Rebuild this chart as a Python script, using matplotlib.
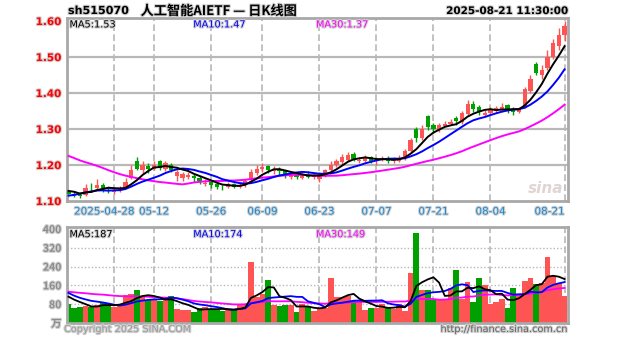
import numpy as np
import pandas as pd
import matplotlib
matplotlib.use('Agg')
import matplotlib.pyplot as plt
import matplotlib.patheffects as pe
import matplotlib.transforms as mtrans

# Daily K-line of sh515070, 2025-04-16 .. 2025-08-21
open_ = [1.125, 1.120, 1.118, 1.117, 1.140, 1.135, 1.145, 1.135, 1.126, 1.130,
         1.140, 1.165, 1.210, 1.185, 1.198, 1.190, 1.212, 1.190, 1.200, 1.170,
         1.165, 1.168, 1.170, 1.165, 1.148, 1.152, 1.146, 1.140, 1.138, 1.148,
         1.140, 1.145, 1.158, 1.178, 1.190, 1.198, 1.182, 1.190, 1.182, 1.168,
         1.172, 1.165, 1.175, 1.168, 1.162, 1.175, 1.185, 1.200, 1.208, 1.215,
         1.230, 1.212, 1.212, 1.222, 1.210, 1.215, 1.220, 1.210, 1.212, 1.222,
         1.240, 1.300, 1.275, 1.335, 1.310, 1.298, 1.308, 1.315, 1.330, 1.320,
         1.343, 1.370, 1.360, 1.340, 1.345, 1.350, 1.352, 1.368, 1.356, 1.348,
         1.360, 1.405, 1.480, 1.450, 1.470, 1.500, 1.530, 1.560]
high = [1.130, 1.127, 1.122, 1.148, 1.150, 1.160, 1.150, 1.140, 1.138, 1.142,
        1.165, 1.200, 1.222, 1.210, 1.205, 1.210, 1.215, 1.210, 1.205, 1.186,
        1.180, 1.180, 1.175, 1.170, 1.160, 1.158, 1.150, 1.145, 1.152, 1.150,
        1.150, 1.160, 1.190, 1.200, 1.205, 1.200, 1.196, 1.195, 1.186, 1.180,
        1.178, 1.180, 1.182, 1.178, 1.180, 1.190, 1.210, 1.218, 1.230, 1.236,
        1.235, 1.222, 1.228, 1.226, 1.222, 1.225, 1.225, 1.222, 1.228, 1.245,
        1.275, 1.305, 1.310, 1.340, 1.318, 1.317, 1.322, 1.328, 1.335, 1.350,
        1.380, 1.378, 1.366, 1.352, 1.360, 1.365, 1.372, 1.370, 1.360, 1.360,
        1.418, 1.450, 1.486, 1.478, 1.520, 1.550, 1.580, 1.600]
low = [1.112, 1.112, 1.108, 1.115, 1.128, 1.130, 1.125, 1.122, 1.120, 1.125,
       1.136, 1.160, 1.185, 1.175, 1.178, 1.185, 1.186, 1.183, 1.180, 1.155,
       1.155, 1.160, 1.152, 1.148, 1.142, 1.135, 1.132, 1.130, 1.135, 1.135,
       1.136, 1.140, 1.155, 1.172, 1.180, 1.178, 1.175, 1.172, 1.165, 1.160,
       1.160, 1.160, 1.165, 1.162, 1.152, 1.168, 1.180, 1.195, 1.200, 1.210,
       1.212, 1.205, 1.208, 1.205, 1.200, 1.210, 1.205, 1.205, 1.208, 1.215,
       1.236, 1.265, 1.270, 1.298, 1.290, 1.292, 1.305, 1.310, 1.310, 1.315,
       1.340, 1.348, 1.340, 1.335, 1.340, 1.345, 1.348, 1.345, 1.338, 1.345,
       1.358, 1.400, 1.450, 1.440, 1.465, 1.495, 1.520, 1.545]
close = [1.120, 1.118, 1.115, 1.135, 1.138, 1.145, 1.135, 1.132, 1.128, 1.135,
         1.152, 1.185, 1.190, 1.200, 1.190, 1.200, 1.192, 1.205, 1.185, 1.180,
         1.175, 1.172, 1.165, 1.155, 1.150, 1.145, 1.140, 1.138, 1.148, 1.140,
         1.145, 1.155, 1.180, 1.190, 1.195, 1.185, 1.190, 1.182, 1.172, 1.175,
         1.168, 1.172, 1.168, 1.170, 1.175, 1.185, 1.200, 1.210, 1.222, 1.228,
         1.218, 1.215, 1.222, 1.212, 1.215, 1.218, 1.212, 1.215, 1.220, 1.240,
         1.270, 1.275, 1.300, 1.305, 1.300, 1.310, 1.315, 1.320, 1.322, 1.345,
         1.370, 1.355, 1.350, 1.345, 1.355, 1.358, 1.362, 1.352, 1.348, 1.355,
         1.410, 1.440, 1.455, 1.465, 1.500, 1.540, 1.560, 1.585]
volume = [80, 62, 70, 72, 68, 78, 90, 75, 68, 80,
          118, 124, 140, 112, 98, 100, 92, 98, 116, 60,
          55, 56, 47, 65, 68, 60, 55, 52, 58, 56,
          78, 82, 260, 112, 125, 183, 78, 72, 78, 75,
          48, 80, 70, 52, 62, 65, 190, 112, 110, 115,
          92, 90, 55, 62, 62, 80, 62, 60, 80, 52,
          213, 382, 140, 140, 98, 98, 100, 150, 225, 100,
          176, 90, 190, 162, 80, 91, 100, 65, 150, 120,
          180, 190, 165, 170, 280, 200, 170, 115]

# 29 sessions before the window, used to seed the moving averages
close_prev = [1.30, 1.31, 1.29, 1.28, 1.30, 1.31, 1.32, 1.30, 1.29, 1.28,
              1.29, 1.30, 1.29, 1.28, 1.27, 1.26, 1.25, 1.24, 1.23, 1.22,
              1.10, 1.08, 1.10, 1.11, 1.12, 1.13, 1.14, 1.12, 1.13]
volume_prev = [130, 140, 125, 150, 135, 128, 142, 138, 130, 145,
               132, 140, 128, 136, 134, 139, 131, 137, 135, 135,
               180, 160, 140, 130, 110, 125, 120, 118, 117]

holidays = ['2025-05-01', '2025-05-02', '2025-05-05', '2025-06-02']
tick_dates = ['2025-04-28', '2025-05-12', '2025-05-26', '2025-06-09', '2025-06-23',
              '2025-07-07', '2025-07-21', '2025-08-04', '2025-08-21']
price_ticks = [1.10, 1.20, 1.30, 1.40, 1.50, 1.60]
vol_ticks = [80, 160, 240, 320, 400]

days = pd.bdate_range('2025-04-16', '2025-08-21')
days = days[~days.isin(pd.to_datetime(holidays))]
x = np.arange(len(days))
tick_idx = [days.get_loc(pd.Timestamp(d)) for d in tick_dates]
tick_lbl = [tick_dates[0]] + [d[5:] for d in tick_dates[1:]]


def ma(prev, cur, n):
    s = pd.Series(list(prev) + list(cur)).rolling(n).mean()
    return s.values[len(prev):]


o = np.array(open_)
c = np.array(close)
up = c >= o
RED, GREEN = '#ff5454', '#00a000'
colors = np.where(up, RED, GREEN)
cjk = ['Noto Sans CJK SC', 'DejaVu Sans']
halo = [pe.withStroke(linewidth=1.6, foreground='#d0d0d0')]
GRID = '#b8b8b8'

W, H = 627, 342
fig = plt.figure(figsize=(W / 100, H / 100), dpi=100)
ax_p = fig.add_axes([67 / W, 1 - 201 / H, 501 / W, 183 / H])
ax_v = fig.add_axes([67 / W, 1 - 323 / H, 501 / W, 96 / H])

for ax in (ax_p, ax_v):
    ax.set_xlim(-0.26, 87.6)
    for sp in ax.spines.values():
        sp.set_color('#a8a8a8')
        sp.set_linewidth(2)
    for i in tick_idx:
        ax.axvline(i, color=GRID, lw=1.2, ls=(0, (4, 2)), zorder=0)
    ax.tick_params(length=0)

# price panel
ax_p.set_ylim(1.10, 1.6083)
for lv in price_ticks[1:-1]:
    ax_p.axhline(lv, color=GRID, lw=1.6, zorder=0)
ax_p.vlines(x, low, high, color=colors, lw=1, zorder=2)
body = np.maximum(np.abs(c - o), 0.002)
ax_p.bar(x, body, bottom=np.minimum(o, c), width=0.75, color=colors, zorder=3)

ma5 = ma(close_prev, close, 5)
ma10 = ma(close_prev, close, 10)
ma30 = ma(close_prev, close, 30)
ax_p.plot(x, ma30, color='#ff00ff', lw=1.4, zorder=4)
ax_p.plot(x, ma10, color='#0000ff', lw=1.4, zorder=4)
ax_p.plot(x, ma5, color='black', lw=1.4, zorder=4)

ax_p.set_yticks(price_ticks)
ax_p.set_yticklabels(['%.2f' % t for t in price_ticks], color='red',
                     fontsize=7.5, fontweight='bold')
ax_p.set_xticks(tick_idx)
ax_p.set_xticklabels(tick_lbl, color='#1a8ad4', fontsize=7.5)
ax_p.tick_params(axis='x', pad=4)
ax_p.tick_params(axis='y', pad=4)
xlabels = ax_p.get_xticklabels()
xlabels[-1].set_ha('right')
# the long first date leans left so it clears the next one
xlabels[0].set_transform(xlabels[0].get_transform() +
                         mtrans.ScaledTranslation(-0.1, 0, fig.dpi_scale_trans))
for t in ax_p.get_yticklabels() + xlabels:
    t.set_path_effects(halo)

ax_p.text(0.005, 0.965, 'MA5:%.2f' % ma5[-1], transform=ax_p.transAxes,
          fontsize=7, va='center', color='black', path_effects=halo)
ax_p.text(0.252, 0.965, 'MA10:%.2f' % ma10[-1], transform=ax_p.transAxes,
          fontsize=7, va='center', color='#0000ff', path_effects=halo)
ax_p.text(0.497, 0.965, 'MA30:%.2f' % ma30[-1], transform=ax_p.transAxes,
          fontsize=7, va='center', color='#ff00ff', path_effects=halo)
ax_p.text(0.955, 0.07, 'sina', transform=ax_p.transAxes, fontsize=11,
          fontstyle='italic', fontweight='bold', color='#e2d4d4', ha='center',
          va='center', zorder=1)

# volume panel
ax_v.set_ylim(0, 408.5)
for lv in vol_ticks[:-1]:
    ax_v.axhline(lv, color=GRID, lw=1, ls=(0, (1, 1.5)), zorder=0)
ax_v.bar(x, volume, width=1.0, color=colors, zorder=2)
vma5 = ma(volume_prev, volume, 5)
vma10 = ma(volume_prev, volume, 10)
vma30 = ma(volume_prev, volume, 30)
ax_v.plot(x, vma30, color='#ff00ff', lw=1.3, zorder=3)
ax_v.plot(x, vma10, color='#0000ff', lw=1.3, zorder=3)
ax_v.plot(x, vma5, color='black', lw=1.3, zorder=3)
ax_v.set_xticks([])
ax_v.set_yticks([0] + vol_ticks)
ax_v.set_yticklabels(['万'] + [str(v) for v in vol_ticks], color='#8c8c8c',
                     fontsize=7.5, fontweight='bold', family=cjk)
ax_v.tick_params(axis='y', pad=4)
for t in ax_v.get_yticklabels():
    t.set_path_effects(halo)

ax_v.text(0.005, 0.925, 'MA5:%.0f' % vma5[-1], transform=ax_v.transAxes,
          fontsize=7, va='center', color='black', path_effects=halo)
ax_v.text(0.252, 0.925, 'MA10:%.0f' % vma10[-1], transform=ax_v.transAxes,
          fontsize=7, va='center', color='#0000ff', path_effects=halo)
ax_v.text(0.497, 0.925, 'MA30:%.0f' % vma30[-1], transform=ax_v.transAxes,
          fontsize=7, va='center', color='#ff00ff', path_effects=halo)

# header and footer
fig.text(68 / W, 1 - 11 / H, 'sh515070', fontsize=8, fontweight='bold',
         va='center', path_effects=halo)
fig.text(219 / W, 1 - 11 / H, '人工智能AIETF — 日K线图', family=cjk,
         fontsize=9.5, fontweight='bold', ha='center', va='center',
         path_effects=halo)
fig.text(568 / W, 1 - 11 / H, '2025-08-21 11:30:00', fontsize=7.5,
         fontweight='bold', ha='right', va='center', path_effects=halo)
fig.text(64 / W, 1 - 329 / H, 'Copyright 2025 SINA.COM', fontsize=7,
         color='#9a9a9a', va='center', path_effects=halo)
fig.text(568 / W, 1 - 329 / H, 'http://finance.sina.com.cn', fontsize=7,
         color='#606060', ha='right', va='center', path_effects=halo)

fig.savefig('out.png', dpi=100)
